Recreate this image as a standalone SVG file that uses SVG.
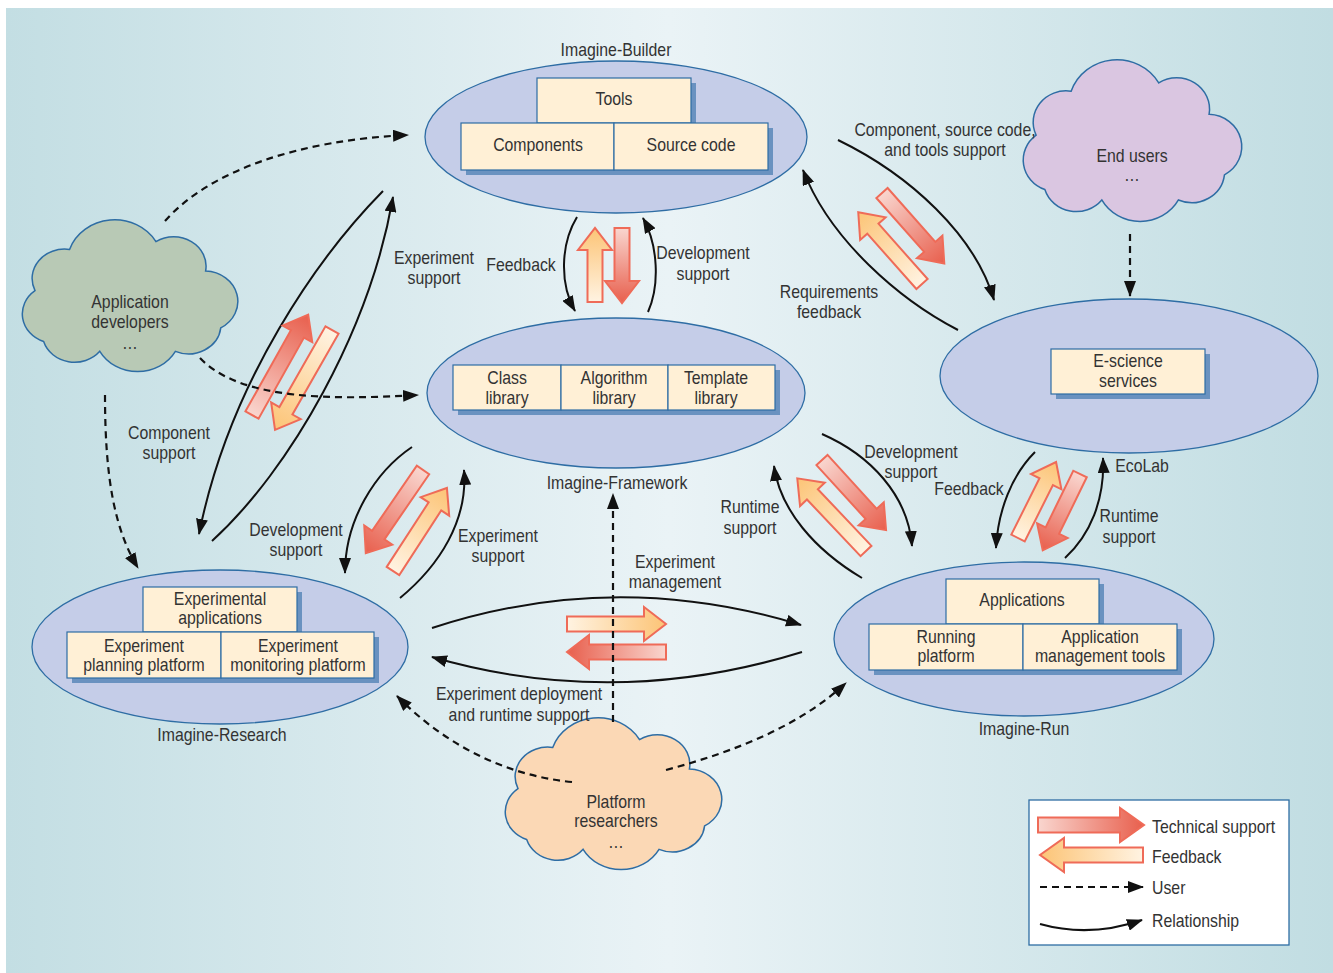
<svg xmlns="http://www.w3.org/2000/svg" width="1333" height="973" viewBox="0 0 1333 973">
<defs>
<linearGradient id="bg" x1="0" y1="0" x2="1" y2="0">
<stop offset="0" stop-color="#c3dee3"/><stop offset="0.5" stop-color="#eaf3f6"/><stop offset="1" stop-color="#c1dde2"/>
</linearGradient>
<linearGradient id="gRed" x1="0" y1="0" x2="1" y2="0">
<stop offset="0" stop-color="#f9d6cf"/><stop offset="1" stop-color="#e85f4d"/>
</linearGradient>
<linearGradient id="gYel" x1="0" y1="0" x2="1" y2="0">
<stop offset="0" stop-color="#fff3e2"/><stop offset="1" stop-color="#fcc476"/>
</linearGradient>
<marker id="ah" viewBox="0 0 16 12" refX="15" refY="6" markerWidth="16" markerHeight="12" markerUnits="userSpaceOnUse" orient="auto">
<path d="M0,0 L16,6 L0,12 z" fill="#111"/>
</marker>
<path id="cloud" vector-effect="non-scaling-stroke" d="M20,70 A30,30 0 0 1 52,28 A44,44 0 0 1 132,20 A30,30 0 0 1 178,50 A31,31 0 0 1 192,108 A30,30 0 0 1 150,132 A40,40 0 0 1 80,132 A30,30 0 0 1 28,122 A30,30 0 0 1 20,70 Z"/>
<style>
.t{font-family:"Liberation Sans",Arial,sans-serif;font-size:18px;fill:#333;text-anchor:middle}
.tl{text-anchor:start}
.ell{fill:#c5cde8;stroke:#2e6da4;stroke-width:1.3}
.box{fill:#fff0d6;stroke:#2e6da4;stroke-width:1.2}
.sh{fill:#6a92c0}
.cl{stroke:#2e6da4;stroke-width:1.5}
.rel{fill:none;stroke:#111;stroke-width:2;marker-end:url(#ah)}
.usr{fill:none;stroke:#111;stroke-width:2.2;stroke-dasharray:7 5;marker-end:url(#ah)}
.red{fill:url(#gRed);stroke:#ef6b58;stroke-width:2}
.yel{fill:url(#gYel);stroke:#ef6b58;stroke-width:2}
</style>
</defs>

<rect x="6" y="8" width="1327" height="965" fill="url(#bg)"/>

<g id="imagine-builder">
<ellipse class="ell" cx="616" cy="137" rx="191" ry="76"/>
<rect class="sh" x="542" y="83" width="154" height="45"/>
<rect class="sh" x="466" y="128" width="307" height="47"/>
<rect class="box" x="537" y="78" width="154" height="45"/>
<rect class="box" x="461" y="123" width="153" height="47"/>
<rect class="box" x="614" y="123" width="154" height="47"/>
<text class="t" transform="translate(616,56) scale(.88,1)">Imagine-Builder</text>
<text class="t" transform="translate(614,105) scale(.88,1)">Tools</text>
<text class="t" transform="translate(538,151) scale(.88,1)">Components</text>
<text class="t" transform="translate(691,151) scale(.88,1)">Source code</text>
</g>

<g id="imagine-framework">
<ellipse class="ell" cx="616" cy="393" rx="189" ry="75"/>
<rect class="sh" x="458" y="370" width="322" height="45"/>
<rect class="box" x="453" y="365" width="108" height="45"/>
<rect class="box" x="561" y="365" width="107" height="45"/>
<rect class="box" x="668" y="365" width="107" height="45"/>
<text class="t" transform="translate(507,384) scale(.88,1)">Class</text>
<text class="t" transform="translate(507,404) scale(.88,1)">library</text>
<text class="t" transform="translate(614,384) scale(.88,1)">Algorithm</text>
<text class="t" transform="translate(614,404) scale(.88,1)">library</text>
<text class="t" transform="translate(716,384) scale(.88,1)">Template</text>
<text class="t" transform="translate(716,404) scale(.88,1)">library</text>
<text class="t" transform="translate(617,489) scale(.88,1)">Imagine-Framework</text>
</g>

<g id="ecolab">
<ellipse class="ell" cx="1129" cy="376" rx="189" ry="77"/>
<rect class="sh" x="1056" y="354" width="154" height="45"/>
<rect class="box" x="1051" y="349" width="154" height="45"/>
<text class="t" transform="translate(1128,367) scale(.88,1)">E-science</text>
<text class="t" transform="translate(1128,387) scale(.88,1)">services</text>
<text class="t" transform="translate(1142,472) scale(.88,1)">EcoLab</text>
</g>

<g id="imagine-research">
<ellipse class="ell" cx="220" cy="647" rx="188" ry="77"/>
<rect class="sh" x="148" y="592" width="154" height="45"/>
<rect class="sh" x="72" y="637" width="307" height="46"/>
<rect class="box" x="143" y="587" width="154" height="45"/>
<rect class="box" x="67" y="632" width="154" height="46"/>
<rect class="box" x="221" y="632" width="153" height="46"/>
<text class="t" transform="translate(220,605) scale(.88,1)">Experimental</text>
<text class="t" transform="translate(220,624) scale(.88,1)">applications</text>
<text class="t" transform="translate(144,652) scale(.88,1)">Experiment</text>
<text class="t" transform="translate(144,671) scale(.88,1)">planning platform</text>
<text class="t" transform="translate(298,652) scale(.88,1)">Experiment</text>
<text class="t" transform="translate(298,671) scale(.88,1)">monitoring platform</text>
<text class="t" transform="translate(222,741) scale(.88,1)">Imagine-Research</text>
</g>

<g id="imagine-run">
<ellipse class="ell" cx="1024" cy="639" rx="190" ry="77"/>
<rect class="sh" x="951" y="584" width="153" height="45"/>
<rect class="sh" x="874" y="629" width="308" height="46"/>
<rect class="box" x="946" y="579" width="153" height="45"/>
<rect class="box" x="869" y="624" width="154" height="46"/>
<rect class="box" x="1023" y="624" width="154" height="46"/>
<text class="t" transform="translate(1022,606) scale(.88,1)">Applications</text>
<text class="t" transform="translate(946,643) scale(.88,1)">Running</text>
<text class="t" transform="translate(946,662) scale(.88,1)">platform</text>
<text class="t" transform="translate(1100,643) scale(.88,1)">Application</text>
<text class="t" transform="translate(1100,662) scale(.88,1)">management tools</text>
<text class="t" transform="translate(1024,735) scale(.88,1)">Imagine-Run</text>
</g>

<g id="application-developers">
<use href="#cloud" class="cl" fill="#b8c9b5" transform="translate(13.4,222) scale(1.08,0.98)"/>
<text class="t" transform="translate(130,308) scale(.88,1)">Application</text>
<text class="t" transform="translate(130,328) scale(.88,1)">developers</text>
<text class="t" transform="translate(130,349) scale(.88,1)">…</text>
</g>

<g id="end-users">
<use href="#cloud" class="cl" fill="#dac6e1" transform="translate(1014.2,62) scale(1.095,1.045)"/>
<text class="t" transform="translate(1132,162) scale(.88,1)">End users</text>
<text class="t" transform="translate(1132,181) scale(.88,1)">…</text>
</g>

<g id="platform-researchers">
<use href="#cloud" class="cl" fill="#fbd8b5" transform="translate(496.3,720) scale(1.085,0.98)"/>
<text class="t" transform="translate(616,808) scale(.88,1)">Platform</text>
<text class="t" transform="translate(616,827) scale(.88,1)">researchers</text>
<text class="t" transform="translate(616,848) scale(.88,1)">…</text>
</g>

<g id="connectors">
<path class="rel" d="M577,217 C560,245 560,285 575,311"/>
<path class="rel" d="M648,312 C660,285 658,245 643,218"/>
<path class="rel" d="M383,191 C320,255 230,380 199,534"/>
<path class="rel" d="M212,541 C290,470 370,330 393,197"/>
<path class="rel" d="M838,140 C910,175 975,235 994,300"/>
<path class="rel" d="M958,330 C900,300 830,240 803,170"/>
<path class="rel" d="M412,447 C375,472 345,520 345,573"/>
<path class="rel" d="M400,598 C440,565 468,520 464,470"/>
<path class="rel" d="M822,434 C870,455 908,495 912,546"/>
<path class="rel" d="M862,578 C815,550 780,510 774,466"/>
<path class="rel" d="M1035,452 C1012,475 998,510 996,548"/>
<path class="rel" d="M1065,558 C1090,535 1105,500 1103,458"/>
<path class="rel" d="M432,628 Q615,568 801,625"/>
<path class="rel" d="M802,652 Q615,710 432,657"/>

<polygon class="yel" transform="translate(595,302) rotate(-90)" points="0,-7.5 52,-7.5 52,-17 74,0 52,17 52,7.5 0,7.5"/>
<polygon class="red" transform="translate(622,228) rotate(90)" points="0,-7.5 53,-7.5 53,-17 75,0 53,17 53,7.5 0,7.5"/>
<polygon class="red" transform="translate(882,193) rotate(48.5)" points="0,-7.5 72,-7.5 72,-17 94,0 72,17 72,7.5 0,7.5"/>
<polygon class="yel" transform="translate(922,284) rotate(228.4)" points="0,-7.5 74,-7.5 74,-17 96,0 74,17 74,7.5 0,7.5"/>
<polygon class="red" transform="translate(252,415) rotate(-60.75)" points="0,-7.5 93,-7.5 93,-17 115,0 93,17 93,7.5 0,7.5"/>
<polygon class="yel" transform="translate(332,330) rotate(119.7)" points="0,-7.5 93,-7.5 93,-17 115,0 93,17 93,7.5 0,7.5"/>
<polygon class="red" transform="translate(423,470) rotate(124.5)" points="0,-7.5 79,-7.5 79,-17 101,0 79,17 79,7.5 0,7.5"/>
<polygon class="yel" transform="translate(393,571) rotate(-57)" points="0,-7.5 77,-7.5 77,-17 99,0 77,17 77,7.5 0,7.5"/>
<polygon class="red" transform="translate(822,460) rotate(47.6)" points="0,-7.5 73,-7.5 73,-17 95,0 73,17 73,7.5 0,7.5"/>
<polygon class="yel" transform="translate(866,551) rotate(226.6)" points="0,-7.5 78,-7.5 78,-17 100,0 78,17 78,7.5 0,7.5"/>
<polygon class="yel" transform="translate(1018,538) rotate(-63.4)" points="0,-7.5 63,-7.5 63,-17 85,0 63,17 63,7.5 0,7.5"/>
<polygon class="red" transform="translate(1080,474) rotate(116)" points="0,-7.5 63,-7.5 63,-17 85,0 63,17 63,7.5 0,7.5"/>
<polygon class="yel" transform="translate(567,624)" points="0,-7.5 77,-7.5 77,-17 99,0 77,17 77,7.5 0,7.5"/>
<polygon class="red" transform="translate(666,652) rotate(180)" points="0,-7.5 77,-7.5 77,-17 99,0 77,17 77,7.5 0,7.5"/>

<path class="usr" d="M165,221 C210,170 300,140 408,135"/>
<path class="usr" d="M200,358 C240,400 330,400 418,395"/>
<path class="usr" d="M105,395 C105,480 115,530 138,568"/>
<path class="usr" d="M1130,234 L1130,296"/>
<path class="usr" d="M613,722 L613,494"/>
<path class="usr" d="M572,782 C500,775 440,740 397,696"/>
<path class="usr" d="M666,770 C740,750 800,725 846,683"/>
</g>

<g id="labels">
<text class="t" transform="translate(945,136) scale(.88,1)">Component, source code,</text>
<text class="t" transform="translate(945,156) scale(.88,1)">and tools support</text>
<text class="t" transform="translate(829,298) scale(.88,1)">Requirements</text>
<text class="t" transform="translate(829,318) scale(.88,1)">feedback</text>
<text class="t" transform="translate(434,264) scale(.88,1)">Experiment</text>
<text class="t" transform="translate(434,284) scale(.88,1)">support</text>
<text class="t" transform="translate(521,271) scale(.88,1)">Feedback</text>
<text class="t" transform="translate(703,259) scale(.88,1)">Development</text>
<text class="t" transform="translate(703,280) scale(.88,1)">support</text>
<text class="t" transform="translate(169,439) scale(.88,1)">Component</text>
<text class="t" transform="translate(169,459) scale(.88,1)">support</text>
<text class="t" transform="translate(296,536) scale(.88,1)">Development</text>
<text class="t" transform="translate(296,556) scale(.88,1)">support</text>
<text class="t" transform="translate(498,542) scale(.88,1)">Experiment</text>
<text class="t" transform="translate(498,562) scale(.88,1)">support</text>
<text class="t" transform="translate(675,568) scale(.88,1)">Experiment</text>
<text class="t" transform="translate(675,588) scale(.88,1)">management</text>
<text class="t" transform="translate(911,458) scale(.88,1)">Development</text>
<text class="t" transform="translate(911,478) scale(.88,1)">support</text>
<text class="t" transform="translate(750,513) scale(.88,1)">Runtime</text>
<text class="t" transform="translate(750,534) scale(.88,1)">support</text>
<text class="t" transform="translate(969,495) scale(.88,1)">Feedback</text>
<text class="t" transform="translate(1129,522) scale(.88,1)">Runtime</text>
<text class="t" transform="translate(1129,543) scale(.88,1)">support</text>
<text class="t" transform="translate(519,700) scale(.88,1)">Experiment deployment</text>
<text class="t" transform="translate(519,721) scale(.88,1)">and runtime support</text>
</g>

<g id="legend">
<rect x="1029" y="800" width="260" height="145" fill="#fff" stroke="#2e6da4" stroke-width="1.3"/>
<polygon class="red" transform="translate(1038,825)" points="0,-7.5 82,-7.5 82,-17 106,0 82,17 82,7.5 0,7.5"/>
<polygon class="yel" transform="translate(1143,855) rotate(180)" points="0,-7.5 79,-7.5 79,-17 103,0 79,17 79,7.5 0,7.5"/>
<path class="usr" d="M1040,887 L1143,887"/>
<path class="rel" d="M1040,924 Q1090,938 1142,920"/>
<text class="t tl" transform="translate(1152,833) scale(.88,1)">Technical support</text>
<text class="t tl" transform="translate(1152,863) scale(.88,1)">Feedback</text>
<text class="t tl" transform="translate(1152,894) scale(.88,1)">User</text>
<text class="t tl" transform="translate(1152,927) scale(.88,1)">Relationship</text>
</g>
</svg>
